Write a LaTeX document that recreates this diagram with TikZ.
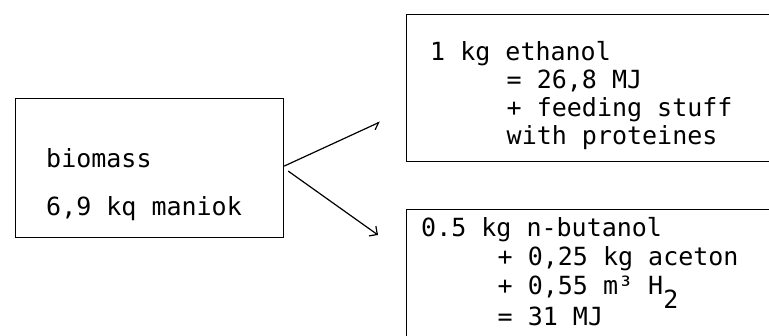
\documentclass[tikz,border=0pt]{standalone}
\usepackage{fontspec}
\setmonofont{DejaVu Sans Mono}
\usetikzlibrary{arrows.meta}
\begin{document}
\begin{tikzpicture}[x=1pt,y=1pt,
  frame/.style={draw, line width=1.2pt, inner sep=0pt},
  txt/.style={inner sep=0pt, anchor=base west, font=\ttfamily\fontsize{25}{30}\selectfont},
  flow/.style={line width=1.2pt}]
\clip (0,0) rectangle (769,336);
% boxes
\node[frame, anchor=north west, minimum width=268pt, minimum height=139pt] (bio) at (15,238) {};
\node[frame, anchor=north west, minimum width=420pt, minimum height=147pt] (eth) at (406,322) {};
\node[frame, anchor=north west, minimum width=420pt, minimum height=200pt] (but) at (406,127) {};
% texts
\node[txt] (b1) at (46,168) {biomass};
\node[txt] (b2) at (46,120) {6,9 kq maniok};
\node[txt] (e1) at (430,275) {1 kg ethanol};
\node[txt] (e2) at (506.5,247) {= 26,8 MJ};
\node[txt] (e3) at (506.5,219) {+ feeding stuff};
\node[txt] (e4) at (506.5,191) {with proteines};
\node[txt] (n1) at (421,99) {0.5 kg n-butanol};
\node[txt] (n2) at (497.5,70) {+ 0,25 kg aceton};
\node[txt] (n3) at (497.5,41) {+ 0,55 m³ H\raisebox{-14pt}{2}};
\node[txt] (n4) at (497.5,10) {= 31 MJ};
% connectors
\coordinate (t1) at (380,214);
\coordinate (t2) at (378,101);
\draw[flow, -{Straight Barb[right, length=6pt, width=10pt]}] ([yshift=2pt]bio.east) -- (t1);
\draw[flow, -{Straight Barb[length=6pt, width=12pt]}] ([xshift=4pt, yshift=-3pt]bio.east) -- (t2);
\end{tikzpicture}
\end{document}
